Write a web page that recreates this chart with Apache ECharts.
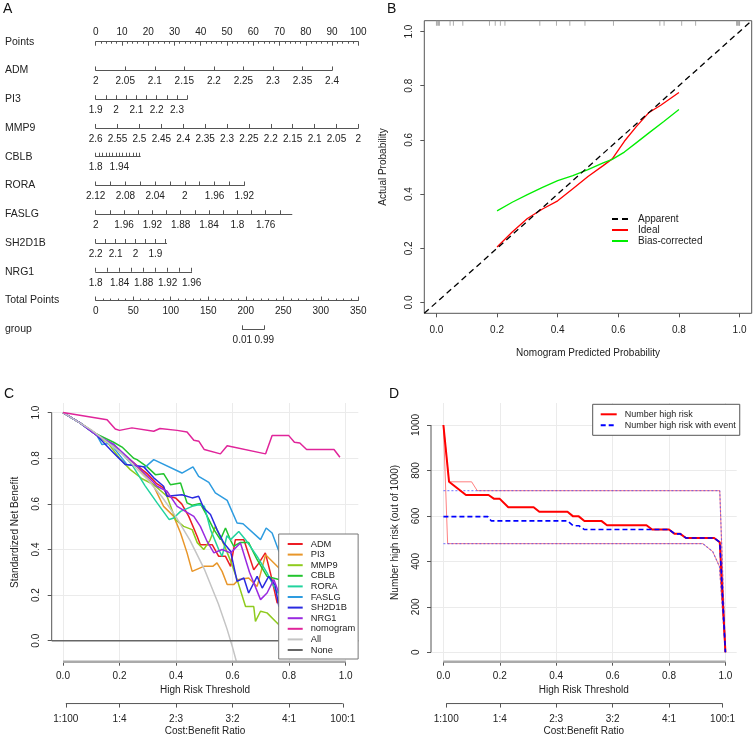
<!DOCTYPE html>
<html><head><meta charset="utf-8">
<script src="https://cdn.jsdelivr.net/npm/echarts@6/dist/echarts.min.js"></script>
<style>html,body{margin:0;padding:0;background:#fff}#c{width:753px;height:737px}</style>
</head><body><div id="c"></div><script>
// ================= DATA =================
// ---- Panel A : nomogram ----
const varNames = ['ADM','PI3','MMP9','CBLB','RORA','FASLG','SH2D1B','NRG1'];
const varStart = [2, 1.9, 2.6, 1.8, 2.12, 2, 2.2, 1.8];          // value at 0 points
const varEnd   = [2.4, 2.35, 2, 2.064, 1.92, 1.723, 1.843, 1.96];  // value at end of scale
const varPointsPerUnit = [225, 77.4, 166.7, 64.3, 283, 269.7, 75.7, 228.4];
const varTickStep = [0.05, 0.05, 0.05, 0.02, 0.02, 0.02, 0.05, 0.02];
const varLabels = [
  [2,2.05,2.1,2.15,2.2,2.25,2.3,2.35,2.4],
  [1.9,2,2.1,2.2,2.3],
  [2.6,2.55,2.5,2.45,2.4,2.35,2.3,2.25,2.2,2.15,2.1,2.05,2],
  [1.8,1.94],
  [2.12,2.08,2.04,2,1.96,1.92],
  [2,1.96,1.92,1.88,1.84,1.8,1.76],
  [2.2,2.1,2,1.9],
  [1.8,1.84,1.88,1.92,1.96]
];
const pointsRange = [0, 100];
const totalPointsRange = [0, 350];
const groupLabels = [0.01, 0.99];
const groupTotalPoints = [195.4, 224.7];

// ---- Panel B : calibration ----
const bTicks = [0, 0.2, 0.4, 0.6, 0.8, 1];
const rugX = [0,0.003,0.007,0.01,0.045,0.056,0.087,0.175,0.194,0.211,0.226,0.341,0.396,0.44,0.49,0.584,0.737,0.751,0.809,0.855,0.99,0.993,0.996,0.999,1.0];
const apparentLine = [[-0.04,-0.04],[1.04,1.04]];
const idealLine = [[0.2,0.205],[0.25,0.26],[0.3,0.31],[0.35,0.345],[0.4,0.375],[0.45,0.42],[0.5,0.465],[0.55,0.505],[0.58,0.53],[0.62,0.595],[0.66,0.65],[0.7,0.70],[0.74,0.728],[0.8,0.775]];
const biasLine = [[0.2,0.338],[0.25,0.37],[0.3,0.398],[0.35,0.425],[0.4,0.45],[0.45,0.468],[0.5,0.49],[0.55,0.515],[0.58,0.528],[0.62,0.555],[0.66,0.59],[0.7,0.625],[0.75,0.668],[0.8,0.712]];

// ---- Panel C : decision curves ----
const cTicks = [0, 0.2, 0.4, 0.6, 0.8, 1];
const cbTicks = [1/101, 0.2, 0.4, 0.6, 0.8, 100/101];
const cbLabels = ['1:100','1:4','2:3','3:2','4:1','100:1'];
const dcaADM = [[0,1],[0.06,0.955],[0.12,0.905],[0.16,0.87],[0.2,0.83],[0.25,0.78],[0.3,0.73],[0.33,0.69],[0.356,0.67],[0.37,0.633],[0.398,0.626],[0.42,0.6],[0.445,0.545],[0.475,0.457],[0.486,0.421],[0.528,0.421],[0.551,0.37],[0.575,0.37],[0.593,0.326],[0.61,0.443],[0.64,0.443],[0.675,0.311],[0.693,0.34],[0.716,0.385],[0.734,0.297],[0.758,0.165],[0.78,0.2],[0.8,0.15]];
const dcaPI3 = [[0,1],[0.06,0.955],[0.12,0.905],[0.16,0.87],[0.2,0.83],[0.25,0.78],[0.3,0.71],[0.321,0.677],[0.356,0.589],[0.392,0.545],[0.416,0.472],[0.439,0.385],[0.457,0.304],[0.498,0.326],[0.53,0.326],[0.545,0.341],[0.563,0.304],[0.581,0.246],[0.604,0.246],[0.622,0.268],[0.657,0.275],[0.687,0.238],[0.717,0.377],[0.764,0.319],[0.8,0.3]];
const dcaMMP9 = [[0,1],[0.06,0.955],[0.12,0.9],[0.16,0.865],[0.2,0.8],[0.238,0.75],[0.28,0.71],[0.321,0.684],[0.368,0.633],[0.398,0.531],[0.427,0.501],[0.457,0.487],[0.475,0.43],[0.498,0.4],[0.52,0.44],[0.539,0.501],[0.57,0.42],[0.593,0.35],[0.616,0.268],[0.646,0.15],[0.675,0.15],[0.681,0.085],[0.699,0.129],[0.722,0.122],[0.764,0.07],[0.8,0.05]];
const dcaCBLB = [[0,1],[0.06,0.955],[0.12,0.905],[0.179,0.87],[0.209,0.849],[0.25,0.8],[0.262,0.794],[0.298,0.762],[0.327,0.728],[0.356,0.732],[0.38,0.684],[0.416,0.691],[0.439,0.604],[0.457,0.594],[0.486,0.601],[0.504,0.56],[0.534,0.487],[0.557,0.443],[0.575,0.494],[0.593,0.44],[0.604,0.414],[0.628,0.431],[0.657,0.43],[0.687,0.355],[0.722,0.282],[0.764,0.268],[0.8,0.25]];
const dcaRORA = [[0,1],[0.06,0.955],[0.12,0.9],[0.18,0.86],[0.244,0.772],[0.29,0.68],[0.333,0.604],[0.376,0.531],[0.392,0.538],[0.416,0.567],[0.457,0.589],[0.48,0.596],[0.5,0.59],[0.522,0.487],[0.551,0.4],[0.563,0.37],[0.58,0.46],[0.593,0.443],[0.622,0.479],[0.646,0.443],[0.687,0.37],[0.722,0.297],[0.758,0.209],[0.78,0.25],[0.8,0.2]];
const dcaFASLG = [[0,1],[0.06,0.955],[0.12,0.9],[0.138,0.86],[0.167,0.865],[0.227,0.772],[0.292,0.762],[0.321,0.794],[0.421,0.735],[0.46,0.762],[0.48,0.72],[0.516,0.694],[0.539,0.648],[0.581,0.615],[0.616,0.516],[0.637,0.513],[0.699,0.443],[0.719,0.494],[0.74,0.472],[0.764,0.392],[0.8,0.36]];
const dcaSH2D1B = [[0,1],[0.06,0.955],[0.12,0.9],[0.179,0.823],[0.221,0.772],[0.286,0.762],[0.321,0.714],[0.356,0.677],[0.368,0.633],[0.421,0.64],[0.457,0.626],[0.48,0.633],[0.498,0.582],[0.522,0.553],[0.545,0.487],[0.569,0.428],[0.593,0.392],[0.616,0.26],[0.64,0.275],[0.657,0.209],[0.687,0.282],[0.705,0.231],[0.728,0.282],[0.75,0.245],[0.764,0.15],[0.8,0.2]];
const dcaNRG1 = [[0,1],[0.06,0.955],[0.12,0.9],[0.18,0.86],[0.25,0.78],[0.3,0.72],[0.333,0.677],[0.368,0.655],[0.404,0.589],[0.433,0.567],[0.463,0.545],[0.486,0.501],[0.51,0.435],[0.534,0.385],[0.563,0.40],[0.593,0.385],[0.628,0.428],[0.66,0.3],[0.699,0.18],[0.722,0.209],[0.746,0.268],[0.764,0.209],[0.8,0.2]];
const dcaNomogram = [[0,1],[0.156,0.969],[0.185,0.928],[0.2,0.922],[0.244,0.933],[0.321,0.918],[0.343,0.93],[0.404,0.922],[0.439,0.915],[0.463,0.879],[0.481,0.874],[0.5,0.838],[0.557,0.819],[0.581,0.855],[0.717,0.819],[0.74,0.899],[0.799,0.899],[0.819,0.87],[0.838,0.867],[0.862,0.838],[0.959,0.838],[0.98,0.804]];
const dcaAll = [[0,1],[0.1,0.924],[0.2,0.829],[0.3,0.706],[0.35,0.631],[0.4,0.543],[0.45,0.439],[0.5,0.314],[0.55,0.161],[0.58,0.053],[0.6,-0.029],[0.62,-0.12]];
const dcaNone = [[-0.04,0],[1.045,0]];
const cNames = ['ADM','PI3','MMP9','CBLB','RORA','FASLG','SH2D1B','NRG1','nomogram','All','None'];
const cColors = ['#EC1C24','#E8962A','#8FCB1E','#22C42E','#22D39E','#2E9CE0','#2A2AE0','#9A2AE0','#E0249A','#C4C4C4','#666666'];

// ---- Panel D : clinical impact ----
const dTicksY = [0, 200, 400, 600, 800, 1000];
const hrMain = [[0,1000],[0.02,750],[0.08,692],[0.16,692],[0.18,675],[0.2,675],[0.23,638],[0.32,638],[0.34,618],[0.44,618],[0.46,598],[0.48,598],[0.5,578],[0.56,578],[0.58,559],[0.72,559],[0.74,540],[0.8,540],[0.82,521],[0.84,521],[0.86,503],[0.96,503],[0.98,484],[1.0,0]];
const hrUpper = [[0,1000],[0.02,750],[0.1,750],[0.12,711],[0.98,711],[1.0,0]];
const hrLower = [[0,1000],[0.015,478],[0.92,478],[0.955,443],[0.979,377],[1.0,0]];
const evMain = [[0,597],[0.157,597],[0.17,578],[0.44,578],[0.46,557],[0.48,557],[0.5,540],[0.8,540],[0.82,521],[0.84,521],[0.86,503],[0.96,503],[0.98,484],[1.0,0]];
const evUpper = [[0,711],[0.98,711],[1.0,0]];
const evLower = [[0,478],[0.92,478],[0.955,443],[0.979,377],[1.0,0]];

// ================= BUILD =================
const FONT = '"Liberation Sans", Arial, sans-serif';
const TXT = '#222';
const AXC = '#555';
const lab = o => Object.assign({fontSize:10, color:TXT, fontFamily:FONT}, o);
const grids=[], xAxes=[], yAxes=[], series=[], graphics=[];
function addGrid(g, xa, ya){
  const gi = grids.length; grids.push(g);
  xa.gridIndex = gi; ya.gridIndex = gi;
  if (!xa.axisLine) xa.axisLine = {show:false};
  if (!ya.axisLine) ya.axisLine = {show:false};
  xa.axisLine.onZero = false; ya.axisLine.onZero = false;
  xAxes.push(xa); yAxes.push(ya); return gi;
}
function genTicks(a, b, step){
  const n = Math.floor(Math.abs(b-a)/step + 1e-9), s = b>a?1:-1, out=[];
  for(let i=0;i<=n;i++) out.push(+(a + s*i*step).toFixed(6));
  return out;
}
const fmtNum = v => String(+(+v).toFixed(4));

// ---- Panel A ----
const AX_L = 95.7, AX_W = 262.6;
const rowY = i => 41.7 + i*28.76;
function nomoRow(i, name, cfg){
  const y = rowY(i);
  const left = AX_L + cfg.p0/cfg.scale*AX_W;
  const width = (cfg.p1-cfg.p0)/cfg.scale*AX_W;
  const xa = {type:'value', min:cfg.min, max:cfg.max, inverse:!!cfg.inverse, position:cfg.top?'top':'bottom',
    axisLine:{show:true, lineStyle:{color:AXC, width:1}},
    axisTick:{show:true, inside:true, length:4, lineStyle:{color:AXC, width:1}},
    axisLabel:lab({margin:cfg.top?4:6, formatter:fmtNum, showMinLabel:true, showMaxLabel:true}),
    splitLine:{show:false}};
  if (cfg.ticks) xa.axisTick.customValues = cfg.ticks;
  if (cfg.labels) xa.axisLabel.customValues = cfg.labels;
  if (cfg.interval){ xa.interval = cfg.interval; xa.minorTick = {show:true, splitNumber:5, length:2, lineStyle:{color:AXC}}; }
  addGrid({left:left, width:width, top:cfg.top? y : y-10, height:10}, xa, {type:'value', show:false, min:0, max:1});
  graphics.push({type:'text', x:5, y:y, style:{text:name, fontSize:10.5, fontFamily:FONT, fill:TXT, verticalAlign:'middle'}});
}
nomoRow(0, 'Points', {p0:0, p1:100, scale:100, min:pointsRange[0], max:pointsRange[1], interval:10, top:true});
varNames.forEach((nm, k) => {
  const s = varStart[k], e = varEnd[k];
  const pEnd = Math.abs(e-s)*varPointsPerUnit[k];
  nomoRow(k+1, nm, {p0:0, p1:pEnd, scale:100, min:Math.min(s,e), max:Math.max(s,e), inverse:e<s,
    ticks:genTicks(s, e, varTickStep[k]), labels:varLabels[k]});
});
nomoRow(9, 'Total Points', {p0:0, p1:350, scale:350, min:totalPointsRange[0], max:totalPointsRange[1], interval:50});
nomoRow(10, 'group', {p0:groupTotalPoints[0], p1:groupTotalPoints[1], scale:350, min:groupLabels[0], max:groupLabels[1], ticks:groupLabels, labels:groupLabels});

// ---- Panel B ----
const tickStyle = {lineStyle:{color:AXC, width:1}};
const bi = addGrid({left:424.3, top:20.7, width:327.4, height:292.6, show:true, borderColor:'#555', borderWidth:1, backgroundColor:'rgba(0,0,0,0)'},
  {type:'value', min:-0.04, max:1.04, axisLine:{show:false}, axisTick:Object.assign({show:true, length:4, customValues:bTicks}, tickStyle),
   axisLabel:lab({customValues:bTicks, margin:12, formatter:v=>(+v).toFixed(1)}), splitLine:{show:false},
   name:'Nomogram Predicted Probability', nameLocation:'middle', nameGap:35, nameTextStyle:lab({})},
  {type:'value', min:-0.04, max:1.04, axisLine:{show:false}, axisTick:Object.assign({show:true, length:4, customValues:bTicks}, tickStyle),
   axisLabel:lab({customValues:bTicks, rotate:90, margin:10, formatter:v=>(+v).toFixed(1)}), splitLine:{show:false},
   name:'Actual Probability', nameLocation:'middle', nameRotate:90, nameGap:36, nameTextStyle:lab({})});
series.push({name:'rug', type:'scatter', xAxisIndex:bi, yAxisIndex:bi, data:rugX.map(x=>[x,1.04]), symbol:'rect', symbolSize:[1,5], symbolOffset:[0,2.5], itemStyle:{color:'#999'}, silent:true, clip:false});
series.push({name:'Apparent', type:'line', xAxisIndex:bi, yAxisIndex:bi, data:apparentLine, symbol:'none', lineStyle:{color:'#000', width:1.3, type:[6,4]}, itemStyle:{color:'#000'}, silent:true, z:5});
series.push({name:'Ideal', type:'line', xAxisIndex:bi, yAxisIndex:bi, data:idealLine, symbol:'none', lineStyle:{color:'#FF0000', width:1.3}, itemStyle:{color:'#FF0000'}, silent:true});
series.push({name:'Bias-corrected', type:'line', xAxisIndex:bi, yAxisIndex:bi, data:biasLine, symbol:'none', lineStyle:{color:'#00EE00', width:1.3}, itemStyle:{color:'#00EE00'}, silent:true});

// ---- Panel C ----
const cX = [-0.04, 1.045], cY = [-0.092, 1.042];
const gridLine = {show:true, lineStyle:{color:'#EBEBEB', width:1}};
const ci = addGrid({left:51.7, top:403, width:306.6, height:258.7},
  {type:'value', min:cX[0], max:cX[1], axisLine:{show:false}, axisTick:Object.assign({show:true, length:4, customValues:cTicks}, tickStyle),
   axisLabel:lab({customValues:cTicks, margin:10, formatter:v=>(+v).toFixed(1)}), splitLine:gridLine,
   name:'High Risk Threshold', nameLocation:'middle', nameGap:24, nameTextStyle:lab({})},
  {type:'value', min:cY[0], max:cY[1], axisLine:{show:false}, axisTick:Object.assign({show:true, length:4, customValues:cTicks}, tickStyle),
   axisLabel:lab({customValues:cTicks, rotate:90, margin:10, formatter:v=>(+v).toFixed(1)}), splitLine:gridLine,
   name:'Standardized Net Benefit', nameLocation:'middle', nameRotate:90, nameGap:31, nameTextStyle:lab({})});
const cData = [dcaADM, dcaPI3, dcaMMP9, dcaCBLB, dcaRORA, dcaFASLG, dcaSH2D1B, dcaNRG1, dcaNomogram, dcaAll, dcaNone];
cNames.forEach((nm,k) => {
  series.push({name:nm, type:'line', xAxisIndex:ci, yAxisIndex:ci, data:cData[k], symbol:'none',
    lineStyle:{color:cColors[k], width:1.5}, itemStyle:{color:cColors[k]}, silent:true, z: nm==='nomogram'?4:3});
});
series.push({name:'cYaxis', type:'line', xAxisIndex:ci, yAxisIndex:ci, data:[[cX[0],cTicks[0]],[cX[0],cTicks[5]]], symbol:'none', lineStyle:{color:AXC, width:1}, silent:true, clip:false});
series.push({name:'cXaxis', type:'line', xAxisIndex:ci, yAxisIndex:ci, data:[[cTicks[0],cY[0]],[cTicks[5],cY[0]]], symbol:'none', lineStyle:{color:'#AAAAAA', width:2.5}, silent:true, clip:false});
const cbFmt = v => { let b=0; cbTicks.forEach((t,i)=>{ if(Math.abs(t-v)<Math.abs(cbTicks[b]-v)) b=i; }); return cbLabels[b]; };
const cci = addGrid({left:51.7, top:703.3, width:306.6, height:1},
  {type:'value', min:cX[0], max:cX[1], axisLine:{show:false}, axisTick:Object.assign({show:true, length:4, customValues:cbTicks}, tickStyle),
   axisLabel:lab({customValues:cbTicks, margin:11, formatter:cbFmt}), splitLine:{show:false},
   name:'Cost:Benefit Ratio', nameLocation:'middle', nameGap:23, nameTextStyle:lab({})},
  {type:'value', show:false, min:0, max:1});
series.push({name:'cCB', type:'line', xAxisIndex:cci, yAxisIndex:cci, data:[[cbTicks[0],0],[cbTicks[5],0]], symbol:'none', lineStyle:{color:AXC, width:1}, silent:true, clip:false});

// ---- Panel D ----
const dX = [-0.044, 1.04], dY = [-41.4, 1096.8];
const di = addGrid({left:431, top:403, width:305.7, height:258.7},
  {type:'value', min:dX[0], max:dX[1], axisLine:{show:false}, axisTick:Object.assign({show:true, length:4, customValues:cTicks}, tickStyle),
   axisLabel:lab({customValues:cTicks, margin:10, formatter:v=>(+v).toFixed(1)}), splitLine:gridLine,
   name:'High Risk Threshold', nameLocation:'middle', nameGap:24, nameTextStyle:lab({})},
  {type:'value', min:dY[0], max:dY[1], axisLine:{show:false}, axisTick:Object.assign({show:true, length:4, customValues:dTicksY}, tickStyle),
   axisLabel:lab({customValues:dTicksY, rotate:90, margin:10, formatter:v=>String(Math.round(v))}), splitLine:gridLine,
   name:'Number high risk (out of 1000)', nameLocation:'middle', nameRotate:90, nameGap:31, nameTextStyle:lab({})});
const dl = (name, data, color, width, type, z) => series.push({name, type:'line', xAxisIndex:di, yAxisIndex:di, data, symbol:'none', lineStyle:{color, width, type}, itemStyle:{color}, silent:true, z});
dl('hrUpper', hrUpper, 'rgba(255,0,0,0.5)', 1, 'solid', 2);
dl('hrLower', hrLower, 'rgba(255,0,0,0.5)', 1, 'solid', 2);
dl('evUpper', evUpper, 'rgba(60,60,255,0.6)', 1.2, [2,2], 3);
dl('evLower', evLower, 'rgba(60,60,255,0.6)', 1.2, [2,2], 3);
dl('Number high risk', hrMain, '#FF0000', 2, 'solid', 4);
dl('Number high risk with event', evMain, '#0000FF', 1.6, [5,3], 5);
series.push({name:'dYaxis', type:'line', xAxisIndex:di, yAxisIndex:di, data:[[dX[0],dTicksY[0]],[dX[0],dTicksY[5]]], symbol:'none', lineStyle:{color:AXC, width:1}, silent:true, clip:false});
series.push({name:'dXaxis', type:'line', xAxisIndex:di, yAxisIndex:di, data:[[cTicks[0],dY[0]],[cTicks[5],dY[0]]], symbol:'none', lineStyle:{color:'#AAAAAA', width:2.5}, silent:true, clip:false});
const dci = addGrid({left:431, top:703.3, width:305.7, height:1},
  {type:'value', min:dX[0], max:dX[1], axisLine:{show:false}, axisTick:Object.assign({show:true, length:4, customValues:cbTicks}, tickStyle),
   axisLabel:lab({customValues:cbTicks, margin:11, formatter:cbFmt}), splitLine:{show:false},
   name:'Cost:Benefit Ratio', nameLocation:'middle', nameGap:23, nameTextStyle:lab({})},
  {type:'value', show:false, min:0, max:1});
series.push({name:'dCB', type:'line', xAxisIndex:dci, yAxisIndex:dci, data:[[cbTicks[0],0],[cbTicks[5],0]], symbol:'none', lineStyle:{color:AXC, width:1}, silent:true, clip:false});

// panel letters
[['A',3,9],['B',387,9],['C',4,394],['D',389,394]].forEach(([t,x,y]) =>
  graphics.push({type:'text', x, y, style:{text:t, fontSize:14, fontFamily:FONT, fill:'#111', verticalAlign:'middle'}}));

const noSym = {opacity:0};
const option = {
  animation:false,
  textStyle:{fontFamily:FONT},
  grid:grids, xAxis:xAxes, yAxis:yAxes, series,
  graphic:graphics,
  legend:[
    {data:['Apparent','Ideal','Bias-corrected'], orient:'vertical', left:611, top:214, itemWidth:16, itemHeight:10, itemGap:1,
     itemStyle:noSym, textStyle:lab({padding:[0,0,0,5]}), selectedMode:false, padding:0},
    {data:cNames, orient:'vertical', left:278.7, top:534, backgroundColor:'#fff', borderColor:'#777', borderWidth:1,
     padding:[5,3,4,8], itemWidth:15, itemHeight:8, itemGap:0.6, itemStyle:noSym, textStyle:lab({fontSize:9.3, lineHeight:10, padding:[0,0,0,3]}), selectedMode:false, z:10},
    {data:['Number high risk','Number high risk with event'], orient:'vertical', left:592.7, top:404.3, backgroundColor:'#fff', borderColor:'#555', borderWidth:1,
     padding:[5,4,5,7], itemWidth:16, itemHeight:8, itemGap:1, itemStyle:noSym, textStyle:lab({fontSize:9, lineHeight:10, padding:[0,0,0,3]}), selectedMode:false, z:10}
  ]
};
const chart = echarts.init(document.getElementById('c'), null, {renderer:'canvas'});
chart.setOption(option);
</script></body></html>
